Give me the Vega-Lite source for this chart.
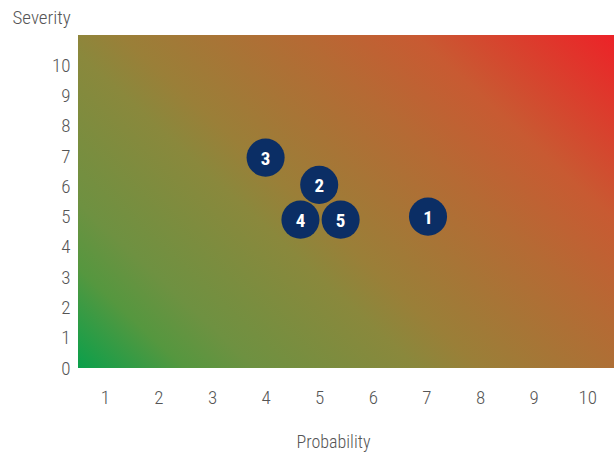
{
  "$schema": "https://vega.github.io/schema/vega-lite/v6.json",
  "width": 536,
  "height": 333,
  "autosize": "none",
  "padding": {"left": 78, "top": 35, "right": 0, "bottom": 85},
  "background": "white",
  "config": {
    "view": {
      "stroke": null,
      "fill": {
        "gradient": "linear",
        "x1": 0, "y1": 1, "x2": 1.15, "y2": 0.23,
        "stops": [
          {"offset": 0, "color": "#0aa04b"},
          {"offset": 0.12, "color": "#55973f"},
          {"offset": 0.2, "color": "#6e9141"},
          {"offset": 0.38, "color": "#8a883c"},
          {"offset": 0.45, "color": "#9a7f38"},
          {"offset": 0.65, "color": "#b56a34"},
          {"offset": 0.78, "color": "#c85a32"},
          {"offset": 1, "color": "#ec2328"}
        ]
      }
    },
    "axis": {
      "grid": false, "domain": false, "ticks": false,
      "labelFont": "Roboto Condensed, Liberation Sans Narrow, DejaVu Sans Condensed, sans-serif",
      "labelFontSize": 19, "labelColor": "#555555", "labelFontWeight": 300,
      "titleFont": "Roboto Condensed, Liberation Sans Narrow, DejaVu Sans Condensed, sans-serif",
      "titleFontSize": 18, "titleColor": "#555555", "titleFontWeight": 300
    }
  },
  "data": {
    "values": [
      {"id": "1", "probability": 7.03, "severity": 5.0},
      {"id": "2", "probability": 5.0, "severity": 6.05},
      {"id": "3", "probability": 4.0, "severity": 6.95},
      {"id": "4", "probability": 4.65, "severity": 4.9},
      {"id": "5", "probability": 5.4, "severity": 4.9}
    ]
  },
  "encoding": {
    "x": {
      "field": "probability", "type": "quantitative",
      "scale": {"domain": [0.5, 10.5], "nice": false, "zero": false},
      "axis": {"values": [1,2,3,4,5,6,7,8,9,10], "title": "Probability", "labelPadding": 20, "titlePadding": 26,
        "titleX": 255, "titleAlign": "center"}
    },
    "y": {
      "field": "severity", "type": "quantitative",
      "scale": {"domain": [0, 11], "nice": false},
      "axis": {"values": [0,1,2,3,4,5,6,7,8,9,10], "title": "Severity", "labelPadding": 8,
        "titleAngle": 0, "titleX": -66, "titleY": -18, "titleAlign": "left", "titleBaseline": "middle", "titleFontSize": 19}
    }
  },
  "layer": [
    {"mark": {"type": "circle", "size": 1450, "opacity": 1, "color": "#0b2e65"}},
    {"mark": {"type": "text", "color": "white", "fontSize": 19, "fontWeight": "bold", "font": "Roboto Condensed, Liberation Sans Narrow, Roboto, sans-serif", "baseline": "middle", "dy": 1},
     "encoding": {"text": {"field": "id"}}}
  ]
}
